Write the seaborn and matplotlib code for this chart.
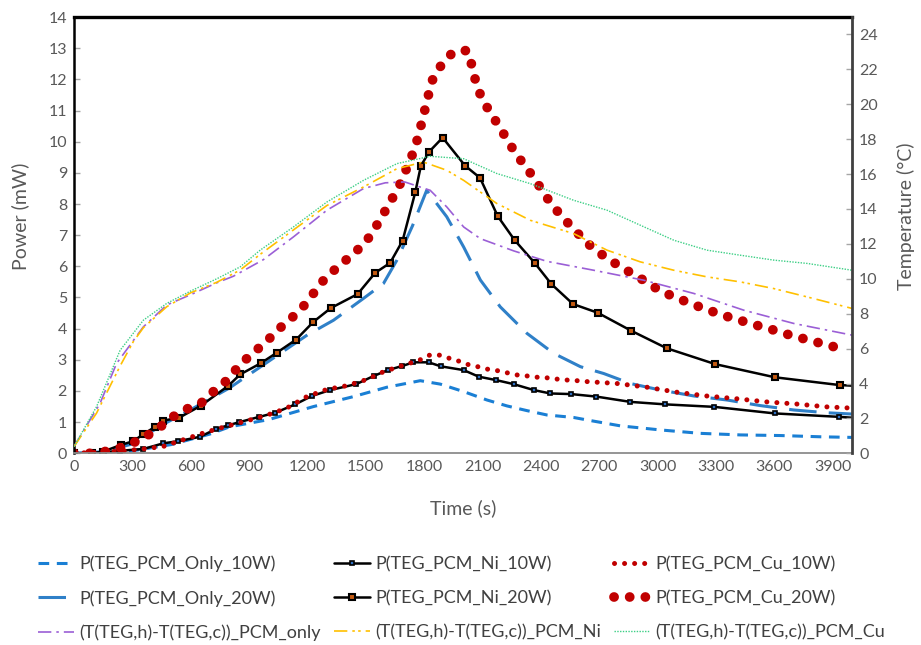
import numpy as np
import pandas as pd
import matplotlib
matplotlib.use('Agg')
import matplotlib.pyplot as plt
import seaborn as sns

sns.set_style('white')
plt.rcParams['font.family'] = ['Lato', 'DejaVu Sans']

# ---- power curves (mW) ----
t_only10 = [0, 150, 300, 500, 700, 800, 1000, 1231, 1437, 1608, 1780, 1883, 2003, 2123, 2226,
            2328, 2431, 2568, 2637, 2809, 3014, 3220, 3426, 3632, 3837, 4000]
p_only10 = [0, 0.01, 0.08, 0.28, 0.62, 0.85, 1.08, 1.50, 1.82, 2.12, 2.33, 2.22, 1.98, 1.71, 1.52,
            1.37, 1.23, 1.15, 1.07, 0.88, 0.75, 0.64, 0.59, 0.57, 0.53, 0.51]

t_only20 = [0, 150, 300, 450, 600, 800, 1000, 1200, 1334, 1488, 1591, 1660, 1740, 1813, 1916,
            2003, 2089, 2191, 2328, 2465, 2603, 2723, 2860, 3014, 3186, 3357, 3529, 3700, 3872, 4000]
p_only20 = [0, 0.05, 0.3, 0.9, 1.4, 2.1, 2.95, 3.8, 4.27, 4.97, 5.45, 6.2, 7.3, 8.44, 7.59,
            6.62, 5.56, 4.70, 3.85, 3.21, 2.78, 2.56, 2.24, 2.03, 1.84, 1.71, 1.53, 1.39, 1.30, 1.26]

t_ni10 = [0, 91, 237, 357, 459, 537, 648, 730, 794, 850, 953, 1034, 1137, 1223, 1317, 1451, 1540,
          1614, 1686, 1745, 1823, 1886, 2003, 2080, 2169, 2260, 2363, 2449, 2557, 2685, 2860, 3040,
          3292, 3602, 3932, 4100]
p_ni10 = [0, 0, 0.08, 0.14, 0.32, 0.39, 0.53, 0.78, 0.90, 1.0, 1.17, 1.30, 1.57, 1.84, 2.03, 2.22, 2.48,
          2.67, 2.80, 2.92, 2.92, 2.79, 2.67, 2.46, 2.35, 2.22, 2.03, 1.92, 1.90, 1.82, 1.65, 1.57,
          1.49, 1.28, 1.17, 1.10]

t_ni20 = [0, 91, 148, 242, 305, 356, 417, 459, 540, 653, 794, 854, 960, 1043, 1142, 1231, 1320, 1458,
          1548, 1625, 1689, 1754, 1783, 1826, 1895, 2010, 2087, 2178, 2265, 2368, 2454, 2565, 2692,
          2865, 3047, 3297, 3602, 3935, 4100]
p_ni20 = [0, 0, 0.05, 0.27, 0.39, 0.61, 0.85, 1.05, 1.14, 1.53, 2.17, 2.53, 2.89, 3.23, 3.65, 4.22, 4.66, 5.11,
          5.79, 6.11, 6.82, 8.37, 9.22, 9.68, 10.13, 9.23, 8.84, 7.61, 6.84, 6.11, 5.43, 4.79, 4.51,
          3.93, 3.37, 2.86, 2.44, 2.19, 2.14]

t_cu10 = [0, 237, 357, 459, 660, 735, 905, 990, 1091, 1197, 1300, 1403, 1506, 1592, 1680, 1776, 1828,
          1878, 1929, 1977, 2025, 2075, 2126, 2178, 2229, 2281, 2332, 2383, 2435, 2485, 2536, 2587,
          2639, 2791, 2946, 3100, 3251, 3408, 3560, 3718, 3869, 4000]
p_cu10 = [0, 0.07, 0.14, 0.22, 0.64, 0.78, 1.07, 1.22, 1.44, 1.82, 2.05, 2.17, 2.37, 2.62, 2.80, 2.99, 3.15,
          3.15, 3.05, 2.96, 2.85, 2.78, 2.70, 2.65, 2.58, 2.51, 2.48, 2.44, 2.42, 2.38, 2.35, 2.33,
          2.30, 2.24, 2.12, 1.96, 1.84, 1.75, 1.65, 1.58, 1.49, 1.45]

t_cu20 = [0, 91, 185, 271, 353, 429, 502, 576, 657, 725, 794, 850, 919, 988, 1051, 1117, 1184, 1291,
          1360, 1428, 1497, 1548, 1595, 1639, 1682, 1716, 1751, 1775, 1797, 1818, 1840, 1886, 1946,
          2020, 2049, 2068, 2102, 2152, 2200, 2246, 2298, 2352, 2403, 2452, 2512, 2574, 2637, 2706,
          2783, 2860, 2937, 3014, 3097, 3181, 3263, 3352, 3438, 3524, 3611, 3697, 3782, 3872, 3961]
p_cu20 = [0, 0, 0.08, 0.24, 0.48, 0.77, 1.15, 1.41, 1.63, 2.03, 2.38, 2.83, 3.21, 3.58, 3.98, 4.33, 4.75, 5.62,
          6.0, 6.36, 6.75, 7.23, 7.73, 8.21, 8.71, 9.24, 9.76, 10.30, 10.85, 11.40, 11.95, 12.44, 12.86,
          12.93, 12.38, 11.83, 11.31, 10.82, 10.34, 9.86, 9.39, 8.94, 8.47, 8.01, 7.57, 7.16, 6.75, 6.41,
          6.09, 5.80, 5.52, 5.21, 4.99, 4.78, 4.59, 4.40, 4.24, 4.08, 3.93, 3.76, 3.63, 3.47, 3.34]

# ---- temperature difference curves (°C) ----
t_dT_only = [0, 134, 219, 357, 477, 614, 734, 820, 974, 1128, 1300, 1488, 1600, 1700, 1831, 1916,
             2003, 2089, 2260, 2431, 2671, 2928, 3186, 3443, 3700, 4000]
dT_only = [0.38, 2.86, 5.15, 7.25, 8.5, 9.16, 9.77, 10.15, 11.1, 12.4, 13.93, 15.17, 15.5, 15.55, 15.07, 14.12,
           12.97, 12.3, 11.6, 11.0, 10.49, 9.92, 9.16, 8.2, 7.44, 6.77]

t_dT_ni = [0, 116, 237, 305, 357, 477, 600, 734, 854, 957, 1128, 1300, 1488, 1660, 1796, 1916, 2003,
           2174, 2346, 2568, 2740, 2911, 3083, 3254, 3426, 3597, 3769, 4000]
dT_ni = [0.38, 2.3, 5.0, 6.4, 7.2, 8.4, 9.2, 9.8, 10.5, 11.4, 12.8, 14.2, 15.26, 16.31, 16.69, 16.22, 15.64,
         14.31, 13.35, 12.59, 11.64, 10.97, 10.49, 10.11, 9.82, 9.44, 8.96, 8.3]

t_dT_cu = [0, 116, 237, 357, 477, 600, 734, 854, 957, 1128, 1300, 1488, 1660, 1831, 2003, 2174, 2346,
           2568, 2740, 2911, 3083, 3254, 3426, 3597, 3769, 4000]
dT_cu = [0.38, 2.67, 5.9, 7.63, 8.59, 9.3, 10.0, 10.68, 11.64, 12.97, 14.4, 15.64, 16.6, 17.02, 16.88, 16.03, 15.45,
         14.5, 13.93, 13.07, 12.21, 11.64, 11.35, 11.07, 10.88, 10.49]

gray = '#595959'

fig = plt.figure(figsize=(9.21, 6.45), dpi=100)
ax = fig.add_axes([0.0803, 0.2972, 0.845, 0.6764])
ax2 = ax.twinx()

sns.lineplot(x=t_only10, y=p_only10, ax=ax, color='#1a7fd4', lw=2.2, sort=False,
             linestyle=(0, (3.5, 2.5)), label='P(TEG_PCM_Only_10W)')
sns.lineplot(x=t_only20, y=p_only20, ax=ax, color='#2f80c8', lw=2.2, sort=False,
             linestyle=(0, (9, 4)), label='P(TEG_PCM_Only_20W)')
sns.lineplot(x=t_ni10, y=p_ni10, ax=ax, color='black', lw=1.8, sort=False,
             marker='s', ms=3.4, mfc='#2f6fc0', mec='black', mew=1.2, label='P(TEG_PCM_Ni_10W)')
sns.lineplot(x=t_ni20, y=p_ni20, ax=ax, color='black', lw=1.8, sort=False,
             marker='s', ms=5, mfc='#c55a11', mec='black', mew=1.5, label='P(TEG_PCM_Ni_20W)')
sns.lineplot(x=t_cu10, y=p_cu10, ax=ax, color='#c00000', lw=3.6, sort=False,
             linestyle=(0, (0.01, 2.0)), dash_capstyle='round', label='P(TEG_PCM_Cu_10W)')
sns.lineplot(x=t_cu20, y=p_cu20, ax=ax, color='#c00000', lw=7, sort=False,
             linestyle=(0, (0.01, 1.6)), dash_capstyle='round', label='P(TEG_PCM_Cu_20W)')

sns.lineplot(x=t_dT_only, y=dT_only, ax=ax2, color='#9b5fd6', lw=1.2, sort=False,
             linestyle=(0, (8, 3, 1.5, 3)), label='(T(TEG,h)-T(TEG,c))_PCM_only')
sns.lineplot(x=t_dT_ni, y=dT_ni, ax=ax2, color='#ffc000', lw=1.2, sort=False,
             linestyle=(0, (8, 3, 1.5, 2, 1.5, 3)), label='(T(TEG,h)-T(TEG,c))_PCM_Ni')
sns.lineplot(x=t_dT_cu, y=dT_cu, ax=ax2, color='#3ccf85', lw=1.0, sort=False,
             linestyle=(0, (1, 1)), label='(T(TEG,h)-T(TEG,c))_PCM_Cu')

h1, l1 = ax.get_legend_handles_labels()
h2, l2 = ax2.get_legend_handles_labels()
ax.get_legend().remove()
ax2.get_legend().remove()
handles = dict(zip(l1 + l2, h1 + h2))
order = ['P(TEG_PCM_Only_10W)', 'P(TEG_PCM_Only_20W)', '(T(TEG,h)-T(TEG,c))_PCM_only',
         'P(TEG_PCM_Ni_10W)', 'P(TEG_PCM_Ni_20W)', '(T(TEG,h)-T(TEG,c))_PCM_Ni',
         'P(TEG_PCM_Cu_10W)', 'P(TEG_PCM_Cu_20W)', '(T(TEG,h)-T(TEG,c))_PCM_Cu']

ax.set_xlim(0, 4000)
ax.set_ylim(0, 14)
ax2.set_ylim(0, 25)
ax.set_xticks(np.arange(0, 4000, 300))
ax.set_yticks(np.arange(0, 15, 1))
ax2.set_yticks(np.arange(0, 25, 2))

ax.set_xlabel('Time (s)', fontsize=14, color=gray, labelpad=18)
ax.set_ylabel('Power (mW)', fontsize=14, color=gray)
ax2.set_ylabel('Temperature (°C)', fontsize=14, color=gray)
ax.yaxis.set_label_coords(-0.057, 0.544)
ax2.yaxis.set_label_coords(1.057, 0.544)

for a in (ax, ax2):
    a.tick_params(direction='in', length=4, width=1, color='#a6a6a6', labelsize=11.5,
                  labelcolor=gray, pad=5)
    for s in a.spines.values():
        s.set_visible(False)

ax.spines['top'].set_visible(True)
ax.spines['top'].set_color('black')
ax.spines['top'].set_linewidth(2.4)
ax.spines['left'].set_visible(True)
ax.spines['left'].set_color('black')
ax.spines['left'].set_linewidth(1.8)
ax.spines['bottom'].set_visible(True)
ax.spines['bottom'].set_color('#8c8c8c')
ax.spines['bottom'].set_linewidth(1.3)
ax2.spines['right'].set_visible(True)
ax2.spines['right'].set_color('#404040')
ax2.spines['right'].set_linewidth(2.0)

fig.legend([handles[k] for k in order], order, ncol=3, loc='lower left',
           bbox_to_anchor=(0.0375, 0.0), frameon=False, fontsize=13, handlelength=2.0,
           handletextpad=0.3, columnspacing=0.7, labelspacing=1.0, borderpad=0.2,
           borderaxespad=0, labelcolor='#404040')

fig.savefig('out.png', dpi=100)
